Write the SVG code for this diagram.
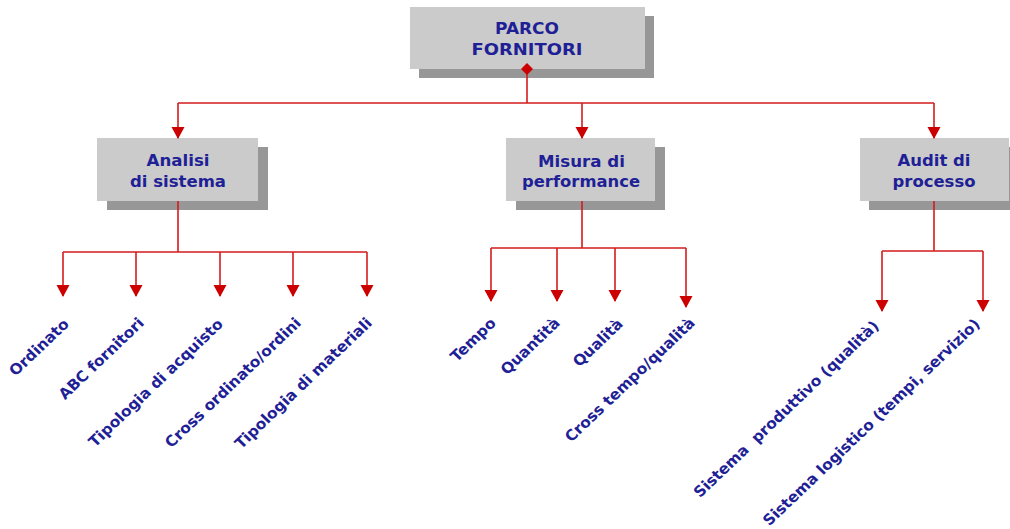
<svg xmlns="http://www.w3.org/2000/svg" width="1010" height="529" viewBox="0 0 1010 529">
  <style>
    .box { fill: #cbcbcb; }
    .shadow { fill: #979797; }
    .title { font-family: "DejaVu Sans", Verdana, sans-serif; font-weight: bold; font-size: 15.7px; fill: #1f1f96; text-anchor: middle; }
    .root { font-size: 16px; }
    .leaf { font-family: "DejaVu Sans", Verdana, sans-serif; font-weight: bold; font-size: 14.8px; fill: #1f1f96; text-anchor: end; white-space: pre; }
    .wire { fill: none; stroke: #d41c1c; stroke-width: 1.6; }
    .arrow { fill: none; stroke: #d41c1c; stroke-width: 1.6; marker-end: url(#head); }
  </style>
  <defs>
    <marker id="head" markerUnits="userSpaceOnUse" markerWidth="12" markerHeight="14" viewBox="0 -7 12 14" refX="11" refY="0" orient="auto">
      <path d="M0,-6.5 L12,0 L0,6.5 Z" fill="#cc0000"/>
    </marker>
  </defs>

  <rect width="1010" height="529" fill="#ffffff"/>

  <!-- root -->
  <g id="parco-fornitori">
    <rect class="shadow" x="419" y="16" width="235" height="62"/>
    <rect class="box" x="410" y="7" width="235" height="62"/>
    <text class="title root" x="527" y="34" textLength="64" lengthAdjust="spacingAndGlyphs">PARCO</text>
    <text class="title root" x="527" y="55" textLength="111" lengthAdjust="spacingAndGlyphs">FORNITORI</text>
  </g>

  <!-- second level -->
  <g id="analisi-sistema">
    <rect class="shadow" x="107" y="147" width="161" height="63"/>
    <rect class="box" x="97" y="138" width="161" height="63"/>
    <text class="title" x="178" y="166" textLength="63" lengthAdjust="spacingAndGlyphs">Analisi</text>
    <text class="title" x="178" y="187" textLength="96" lengthAdjust="spacingAndGlyphs">di sistema</text>
  </g>
  <g id="misura-performance">
    <rect class="shadow" x="516" y="147" width="149" height="63"/>
    <rect class="box" x="506" y="138" width="149" height="63"/>
    <text class="title" x="581.5" y="166.5" textLength="87" lengthAdjust="spacingAndGlyphs">Misura di</text>
    <text class="title" x="581" y="186.5" textLength="118" lengthAdjust="spacingAndGlyphs">performance</text>
  </g>
  <g id="audit-processo">
    <rect class="shadow" x="869" y="147" width="149" height="63"/>
    <rect class="box" x="860" y="138" width="149" height="63"/>
    <text class="title" x="934" y="166" textLength="73" lengthAdjust="spacingAndGlyphs">Audit di</text>
    <text class="title" x="934" y="187" textLength="83" lengthAdjust="spacingAndGlyphs">processo</text>
  </g>

  <!-- leaves -->
  <g id="leaf-ordinato"><text class="leaf" transform="translate(70,325) scale(1.05,1) rotate(-45)">Ordinato</text></g>
  <g id="leaf-abc"><text class="leaf" transform="translate(145,324) scale(1.05,1) rotate(-45)">ABC fornitori</text></g>
  <g id="leaf-tipologia-acquisto"><text class="leaf" transform="translate(224,325) scale(1.05,1) rotate(-45)">Tipologia di acquisto</text></g>
  <g id="leaf-cross-ordinato"><text class="leaf" transform="translate(302,324) scale(1.05,1) rotate(-45)">Cross ordinato/ordini</text></g>
  <g id="leaf-tipologia-materiali"><text class="leaf" transform="translate(373,324) scale(1.05,1) rotate(-45)">Tipologia di materiali</text></g>

  <g id="leaf-tempo"><text class="leaf" transform="translate(497,324) scale(1.05,1) rotate(-45)">Tempo</text></g>
  <g id="leaf-quantita"><text class="leaf" transform="translate(561,324) scale(1.05,1) rotate(-45)">Quantità</text></g>
  <g id="leaf-qualita"><text class="leaf" transform="translate(624,325) scale(1.05,1) rotate(-45)">Qualità</text></g>
  <g id="leaf-cross-tempo"><text class="leaf" transform="translate(696,324) scale(1.05,1) rotate(-45)">Cross tempo/qualità</text></g>

  <g id="leaf-produttivo"><text class="leaf" transform="translate(880,327) scale(1.05,1) rotate(-45)">Sistema  produttivo (qualità)</text></g>
  <g id="leaf-logistico"><text class="leaf" transform="translate(981,325) scale(1.05,1) rotate(-45)">Sistema logistico (tempi, servizio)</text></g>

  <!-- connectors -->
  <g id="connectors">
    <path class="wire" d="M527,69 V103 M178,103 H934"/>
    <path class="arrow" d="M178,103 V138"/>
    <path class="arrow" d="M582,103 V138"/>
    <path class="arrow" d="M934,103 V138"/>

    <path class="wire" d="M178,201 V252 M63,252 H367"/>
    <path class="arrow" d="M63,252 V296"/>
    <path class="arrow" d="M136,252 V296"/>
    <path class="arrow" d="M220,252 V296"/>
    <path class="arrow" d="M293,252 V296"/>
    <path class="arrow" d="M367,252 V296"/>

    <path class="wire" d="M582,201 V248 M491,248 H686"/>
    <path class="arrow" d="M491,248 V301"/>
    <path class="arrow" d="M557,248 V301"/>
    <path class="arrow" d="M615,248 V301"/>
    <path class="arrow" d="M686,248 V307"/>

    <path class="wire" d="M934,201 V251 M882,251 H983"/>
    <path class="arrow" d="M882,251 V311"/>
    <path class="arrow" d="M983,251 V311"/>

    <path d="M527,63 L533,69 L527,75 L521,69 Z" fill="#cc0000"/>
  </g>
</svg>
